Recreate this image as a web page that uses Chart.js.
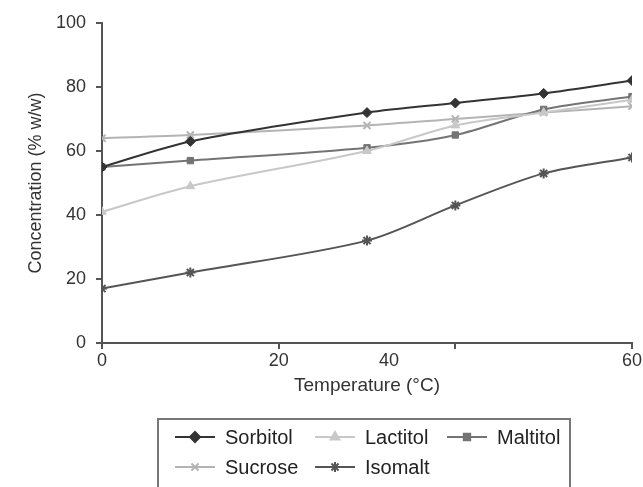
<!DOCTYPE html>
<html>
<head>
<meta charset="utf-8">
<script src="https://cdn.jsdelivr.net/npm/chart.js@4.4.1/dist/chart.umd.min.js"></script>
<style>
  html, body { margin: 0; padding: 0; background: #fff; }
  #wrap { width: 643px; height: 487px; }
</style>
</head>
<body>
<div id="wrap"><canvas id="c" width="643" height="487"></canvas></div>
<script>
// temperatures (°C) and concentrations (% w/w)
const temps = [0, 10, 30, 40, 50, 60];
const sorbitol = [55, 63, 72, 75, 78, 82];
const lactitol = [41, 49, 60, 68, 72, 76];
const maltitol = [55, 57, 61, 65, 73, 77];
const sucrose = [64, 65, 68, 70, 72, 74];
const isomalt = [17, 22, 32, 43, 53, 58];

const xTickMarks = [0, 20, 40, 60];
// the original draws its "40" label off its tick mark
const xTickLabels = ["0", "20", "40", "60"];
const xTickLabelAt = [0, 20, 32.5, 60];

const FONT = "'Liberation Sans', Arial, sans-serif";

function pts(ys) {
  return temps.map((t, i) => ({ x: t, y: ys[i] }));
}

function series(label, ys, color, style, radius) {
  return {
    label,
    data: pts(ys),
    borderColor: color,
    backgroundColor: color,
    borderWidth: 2,
    pointStyle: style,
    pointRadius: radius,
    pointBorderWidth: style === "crossRot" || style === "star" ? 2 : 1,
    tension: 0.3
  };
}

// legend drawn by hand so it can keep the boxed 3 + 2 layout
const legendItems = [
  { ds: 0, x: 175, y: 437 },
  { ds: 1, x: 315, y: 437 },
  { ds: 2, x: 447, y: 437 },
  { ds: 3, x: 175, y: 467 },
  { ds: 4, x: 315, y: 467 }
];

const boxLegend = {
  id: "boxLegend",
  afterDraw(chart) {
    const ctx = chart.ctx;
    ctx.save();
    ctx.strokeStyle = "#777";
    ctx.lineWidth = 2;
    // box runs off the bottom of the picture, as in the source
    ctx.strokeRect(158, 419, 412, 80);
    ctx.font = "20px " + FONT;
    ctx.textBaseline = "middle";
    ctx.textAlign = "left";
    legendItems.forEach(it => {
      const ds = chart.data.datasets[it.ds];
      ctx.strokeStyle = ds.borderColor;
      ctx.fillStyle = ds.backgroundColor;
      ctx.lineWidth = 2;
      ctx.beginPath();
      ctx.moveTo(it.x, it.y);
      ctx.lineTo(it.x + 40, it.y);
      ctx.stroke();
      Chart.helpers.drawPoint(ctx, {
        pointStyle: ds.pointStyle,
        radius: ds.pointRadius,
        rotation: 0,
        borderWidth: ds.pointBorderWidth
      }, it.x + 20, it.y);
      ctx.fillStyle = "#222";
      ctx.fillText(ds.label, it.x + 50, it.y + 1);
    });

    // x tick labels
    const xs = chart.scales.x;
    ctx.fillStyle = "#333";
    ctx.font = "18px " + FONT;
    ctx.textAlign = "center";
    ctx.textBaseline = "top";
    xTickLabels.forEach((t, i) => {
      ctx.fillText(t, xs.getPixelForValue(xTickLabelAt[i]), chart.chartArea.bottom + 9);
    });
    ctx.restore();
  }
};

new Chart(document.getElementById("c"), {
  type: "line",
  data: {
    datasets: [
      series("Sorbitol", sorbitol, "#333333", "rectRot", 5),
      series("Lactitol", lactitol, "#c8c8c8", "triangle", 5),
      series("Maltitol", maltitol, "#747474", "rect", 4.5),
      series("Sucrose", sucrose, "#b4b4b4", "crossRot", 5),
      series("Isomalt", isomalt, "#555555", "star", 5)
    ]
  },
  options: {
    responsive: false,
    animation: false,
    layout: { padding: { top: 23, right: 11, bottom: 74, left: 0 } },
    plugins: {
      legend: { display: false },
      tooltip: { enabled: false }
    },
    scales: {
      x: {
        type: "linear",
        min: 0,
        max: 60,
        afterBuildTicks: s => { s.ticks = xTickMarks.map(v => ({ value: v })); },
        afterFit: s => { s.height = 70; },
        ticks: { display: false },
        grid: { drawOnChartArea: false, drawTicks: true, tickLength: 6, color: "#555", lineWidth: 2 },
        border: { color: "#555", width: 2 },
        title: {
          display: true,
          text: "Temperature (°C)",
          color: "#333",
          font: { family: FONT, size: 19 },
          padding: { top: 0, bottom: 16 }
        }
      },
      y: {
        min: 0,
        max: 100,
        afterFit: s => { s.width = 102; },
        ticks: { stepSize: 20, color: "#333", padding: 10, font: { family: FONT, size: 18 } },
        grid: { drawOnChartArea: false, drawTicks: true, tickLength: 6, color: "#555", lineWidth: 2 },
        border: { color: "#555", width: 2 },
        title: {
          display: true,
          text: "Concentration (% w/w)",
          color: "#333",
          font: { family: FONT, size: 18 },
          padding: { top: 25, bottom: 25 }
        }
      }
    }
  },
  plugins: [boxLegend]
});
</script>
</body>
</html>
